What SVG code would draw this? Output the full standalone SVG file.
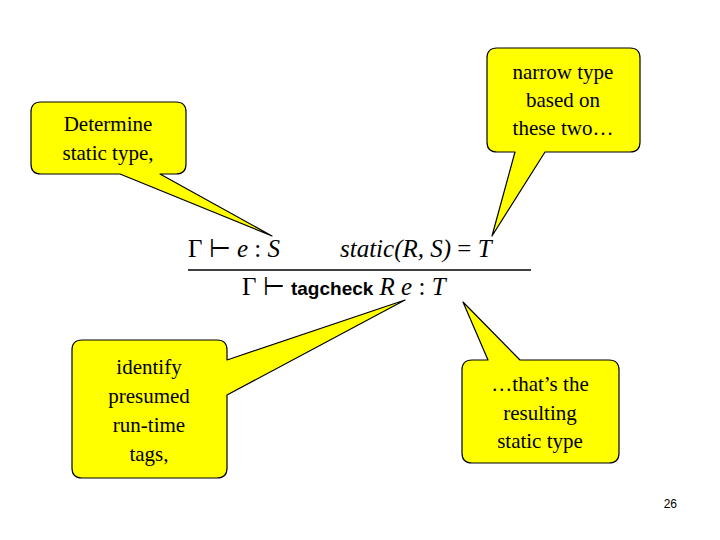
<svg xmlns="http://www.w3.org/2000/svg" width="720" height="540" viewBox="0 0 720 540">
<style>
.c{fill:#ffff00;stroke:#000;stroke-width:1.2;stroke-linejoin:round}
.t{font-family:"Liberation Serif",serif;font-size:21px;text-anchor:middle;fill:#000}
.m{font-family:"Liberation Serif",serif;font-size:25px;fill:#000}
.i{font-style:italic}
</style>
<rect width="720" height="540" fill="#fff"/>
<g id="formula">
<text class="m" x="188" y="257">Γ ⊢ <tspan class="i">e</tspan> : <tspan class="i">S</tspan></text>
<text class="m i" x="340" y="257">static(R, S) <tspan font-style="normal">=</tspan> T</text>
<line x1="188" y1="270" x2="531" y2="270" stroke="#000" stroke-width="1.5"/>
<text class="m" x="242" y="295">Γ ⊢ <tspan font-family="Liberation Sans,sans-serif" font-weight="bold" font-size="19">tagcheck</tspan> <tspan class="i">R  e</tspan> : <tspan class="i">T</tspan></text>
</g>
<g id="connectors"></g>
<g id="n1"><path class="c" d="M41,102 H176 Q186,102 186,112 V164 Q186,174 176,174 H160 L272,236 L120,174 H41 Q31,174 31,164 V112 Q31,102 41,102 Z"/>
<text class="t" x="108" y="131">Determine</text><text class="t" x="108" y="160">static type,</text></g>
<g id="n2"><path class="c" d="M497,48 H630 Q640,48 640,58 V142 Q640,152 630,152 H545 L492,236 L515,152 H497 Q487,152 487,142 V58 Q487,48 497,48 Z"/>
<text class="t" x="563" y="79">narrow type</text><text class="t" x="563" y="107">based on</text><text class="t" x="563" y="135">these two…</text></g>
<g id="n3"><path class="c" d="M82,340 H217 Q227,340 227,350 V360 L405,300 L227,395 V468 Q227,478 217,478 H82 Q72,478 72,468 V350 Q72,340 82,340 Z"/>
<text class="t" x="149" y="374">identify</text><text class="t" x="149" y="403">presumed</text><text class="t" x="149" y="432">run-time</text><text class="t" x="149" y="461">tags,</text></g>
<g id="n4"><path class="c" d="M472,360 H488 L463,302 L520,360 H609 Q619,360 619,370 V453 Q619,463 609,463 H472 Q462,463 462,453 V370 Q462,360 472,360 Z"/>
<text class="t" x="540" y="391">…that’s the</text><text class="t" x="540" y="420">resulting</text><text class="t" x="540" y="448">static type</text></g>
<text x="677" y="508" font-family="Liberation Sans,sans-serif" font-size="12" text-anchor="end">26</text>
</svg>
